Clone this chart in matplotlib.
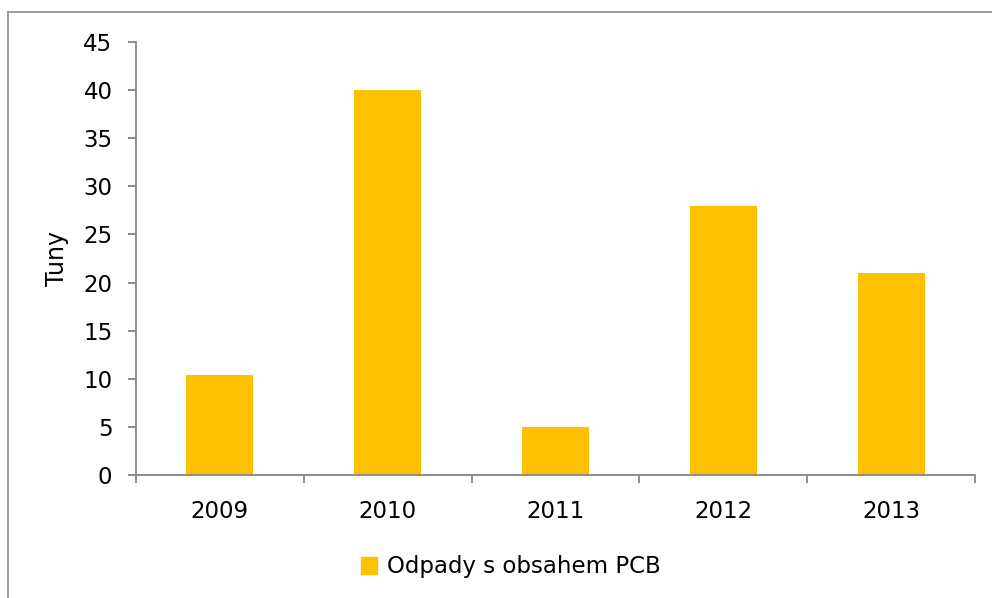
import numpy as np
import matplotlib.pyplot as plt
from matplotlib.lines import Line2D
from matplotlib.patches import Patch

years = ['2009', '2010', '2011', '2012', '2013']
values = [10.4, 40.0, 5.0, 28.0, 21.0]
series_name = 'Odpady s obsahem PCB'

bar_color = '#FFC000'
axis_color = '#868686'

plt.rcParams['font.family'] = ['DejaVu Sans']

fig = plt.figure(figsize=(9.92, 5.98), dpi=100)
ax = fig.add_axes([136 / 992, 1 - 475 / 598, (975 - 136) / 992, (475 - 42) / 598])

x = np.arange(len(years))
ax.bar(x, values, width=0.4, color=bar_color, zorder=2)

ax.set_xlim(-0.5, len(years) - 0.5)
ax.set_ylim(0, 45)
ax.set_yticks(np.arange(0, 46, 5))
ax.set_xticks(x)
ax.set_xticklabels(years)
ax.set_xticks(np.arange(-0.5, len(years)), minor=True)

for s in ['top', 'right']:
    ax.spines[s].set_visible(False)
for s in ['left', 'bottom']:
    ax.spines[s].set_color(axis_color)
    ax.spines[s].set_linewidth(1.3)

ax.tick_params(axis='x', which='major', length=0, pad=18, labelsize=16.5)
ax.tick_params(axis='x', which='minor', length=6, width=1.3, color=axis_color)
ax.tick_params(axis='y', length=6, width=1.3, color=axis_color, pad=11, labelsize=16.5)
ax.set_ylabel('Tuny', fontsize=17)
ax.yaxis.set_label_coords((69 - 136) / (975 - 136), (475 - 259) / (475 - 42))

# legend
handle = Patch(color=bar_color)
fig.legend([handle], [series_name], loc='center', bbox_to_anchor=(511 / 992, 1 - 567 / 598),
           frameon=False, fontsize=16.5, handlelength=0.7, handleheight=0.7, handletextpad=0.45)

# outer chart frame (partially visible)
fig.add_artist(Line2D([8 / 992, 1], [1 - 12 / 598, 1 - 12 / 598], color='#8c8c8c', lw=1.2))
fig.add_artist(Line2D([8 / 992, 8 / 992], [0, 1 - 12 / 598], color='#8c8c8c', lw=1.2))

fig.savefig('out.png', dpi=100)
